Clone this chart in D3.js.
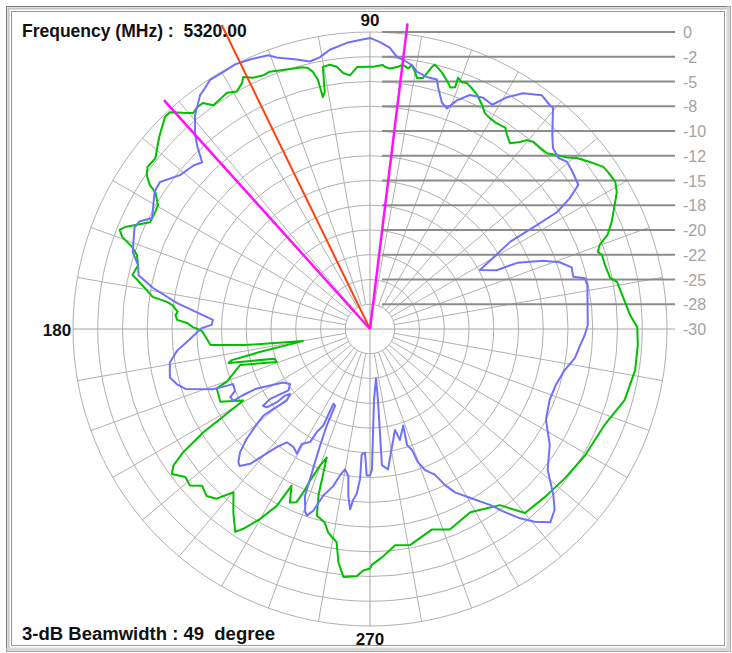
<!DOCTYPE html>
<html><head><meta charset="utf-8">
<script src="https://cdn.jsdelivr.net/npm/d3@7/dist/d3.min.js"></script>
<style>html,body{margin:0;padding:0;background:#fff;}svg{display:block;}</style>
</head><body>
<svg id="c" width="732" height="653"></svg>
<script>
// ---------------- data ----------------
const frequency = "5320.00";
const beamwidth = 49;
const peakAngle = 116;
const beamEdges = [83, 132];
const ringLevels = [0, -2.5, -5, -7.5, -10, -12.5, -15, -17.5, -20, -22.5, -25, -27.5, -30];
const ringLabels = ["0", "-2", "-5", "-8", "-10", "-12", "-15", "-18", "-20", "-22", "-25", "-28", "-30"];
const axisLabels = [90, 180, 270];

const blueAng = [1,11.4,13.3,14.4,17,19.4,21.5,24.2,24.9,28.2,31.9,31.9,32,33.2,34.7,37.9,40.3,42.3,44.7,46.8,50.4,51.2,53.7,57,59.4,61.4,63.9,66.9,69.2,70.8,72.4,74.3,75,77.3,79.6,81,83,84.3,86,88,90,92,94.6,98.2,100.5,102.7,105.2,109,110.4,114,117,119.8,122.7,124.4,126,129.3,132,133.5,135.2,137.2,141,145,147.5,153,155,156.7,162,164.6,166.9,169.3,172.3,175.2,176.7,178.5,179.7,180.6,183.2,186.4,189.5,193.6,195.9,198,201,201.6,201.9,204.6,206,207.7,207.5,207.6,209.5,211.6,214.5,217,215.6,215,215.7,217.2,218.2,218.1,219.1,220.7,219.6,219.1,220,221.7,223.5,225.3,226.4,228.4,229.9,231.7,233.7,237,239.6,239.3,242.1,242.7,244.2,243.9,245.5,245.9,246.8,247.6,248.2,248.7,250.5,251.3,252.7,254.3,256.8,258.4,259.9,261.6,262.6,263.7,264.4,265.4,266.2,266.2,267.7,268.7,270,270.8,273.2,277,276.4,275,277.3,283.9,285.1,289,287.7,289.1,289.8,291.3,294,295.7,297.5,300.6,304.3,306.4,308.4,310.5,313,315.6,317.8,321.6,327.2,332.7,338.5,343.2,348.1,351.9,355.6,358.4];
const blueDb = [-8.0,-7.6,-7.7,-8.8,-8.7,-9.7,-11.2,-13.7,-15.9,-17.4,-13.3,-10.1,-7.7,-5.9,-4.4,-4.1,-3.9,-4.3,-4.0,-3.1,-1.0,-1.0,-0.7,-1.6,-2.8,-4.2,-4.0,-4.3,-5.3,-6.4,-6.0,-4.6,-3.9,-3.9,-3.6,-3.0,-2.6,-2.4,-1.5,-1.0,-0.6,-0.8,-1.0,-1.5,-2.1,-2.3,-1.8,-1.0,-0.5,-0.2,0,-0.1,-0.1,-0.5,-0.8,-2.1,-3.6,-4.7,-6.1,-5.7,-5.3,-4.1,-4.2,-5.3,-4.3,-4.1,-4.8,-5.7,-6.0,-7.7,-10.3,-13.0,-14.1,-14.0,-13.0,-12.7,-11.8,-10.4,-9.5,-9.2,-9.7,-10.4,-13.0,-14.4,-15.1,-15.0,-14.3,-14.4,-15.4,-16.9,-18.4,-19.7,-20.2,-19.7,-18.4,-17.7,-16.7,-16.9,-18.0,-19.1,-19.6,-18.9,-17.3,-16.1,-15.1,-13.3,-11.9,-11.1,-10.9,-11.8,-13.3,-14.8,-15.8,-15.8,-15.4,-16.5,-17.1,-18.3,-19.2,-21.6,-21.5,-19.3,-17.2,-15.4,-13.7,-11.9,-10.4,-10.1,-10.8,-12.5,-13.7,-14.9,-15.6,-15.0,-13.0,-11.7,-12.7,-13.3,-14.8,-17.3,-17.5,-15.2,-15.2,-15.8,-22.8,-25.0,-22.8,-16.2,-15.7,-19.5,-18.4,-19.7,-17.7,-17.1,-15.7,-14.7,-13.9,-12.5,-11.4,-10.2,-8.5,-7.0,-5.6,-4.4,-3.3,-3.9,-5.0,-7.1,-8.4,-10.0,-10.5,-10.4,-9.9,-9.1,-8.7,-8.3];

const greenAng = [0.4,3.1,7.7,10.8,12,15.2,17.7,18.7,20.1,21.6,23.9,27.4,29,31,33.4,34.8,37.2,39.6,41,42.9,44.8,46.8,48.9,50.3,51.3,53,54.8,56.1,58.3,60.4,62,63.4,65.4,67.1,68.5,69.6,70.7,70.6,71.6,72.4,74.3,76.2,76.7,77.4,78.1,79.4,80.1,81,81.7,82.9,84.1,85.6,86.7,87.2,89.3,90.4,92.8,94.5,96,97.2,98.6,100.2,100.8,101.5,101.8,102.5,103.4,104.5,108.6,111.3,112.8,115,116.7,117.5,119.3,121.2,123.2,125,126.5,128,129.3,130.9,132.7,134,135.4,137.3,139,141.5,143.9,145.4,146.8,147.5,149.7,151.6,154.1,155.9,157.4,158.4,159.6,161,162.4,164.6,167.2,168.1,169.7,171.6,172.4,173.1,174.9,175.9,177.3,178.1,179.4,180.6,183.5,185.7,187.3,190.2,191.8,192.7,193.5,197.3,199.4,195.5,200.2,201.2,205.9,209.4,211,211.8,213.4,214.8,216.2,218.7,221,223,225.6,227.9,230.1,233.3,236.4,237.6,239.9,242.2,243,243.4,245.2,247,247.8,248.4,249.9,251.4,252,252.8,254.1,256.9,258.4,261.1,262.3,263.9,266.9,268.4,270,270.5,273,276.6,280.5,287.1,291.7,298.7,306.4,310.1,316.2,322.6,329.6,337.8,344.4,351.2,356.6];
const greenDb = [-3.0,-3.7,-4.3,-4.6,-5.2,-5.4,-5.4,-5.7,-5.3,-4.2,-3.3,-2.1,-1.5,-1.1,-1.2,-1.3,-2.1,-2.9,-3.6,-4.2,-4.8,-4.9,-4.9,-5.2,-5.8,-6.5,-6.0,-5.5,-5.6,-5.5,-5.3,-4.7,-4.0,-3.6,-3.3,-3.4,-3.1,-4.1,-4.3,-3.9,-3.1,-2.5,-2.8,-3.5,-4.1,-4.2,-3.6,-3.0,-3.4,-3.1,-3.4,-3.6,-3.5,-3.3,-3.5,-3.5,-3.5,-4.3,-4.0,-3.3,-3.0,-3.1,-5.6,-6.1,-4.3,-3.4,-2.9,-2.7,-2.4,-2.1,-2.2,-2.0,-1.5,-2.0,-2.5,-2.1,-2.3,-2.4,-1.6,-1.6,-1.8,-1.1,-0.2,-0.2,-0.6,-1.1,-1.6,-2.3,-2.2,-2.6,-3.4,-4.3,-5.2,-5.3,-5.3,-4.2,-3.2,-2.8,-3.3,-4.6,-5.3,-5.7,-5.4,-6.0,-6.9,-7.8,-9.3,-9.9,-10.5,-10.3,-10.5,-11.5,-12.1,-13.0,-13.5,-13.8,-17.3,-23.1,-18.6,-15.7,-15.3,-19.9,-20.0,-16.4,-14.6,-13.4,-13.2,-15.3,-12.3,-10.2,-7.4,-5.8,-5.2,-6.1,-5.9,-6.8,-6.4,-6.9,-8.5,-6.9,-5.4,-6.1,-7.8,-9.8,-11.5,-12.3,-10.7,-11.0,-12.2,-13.5,-15.3,-16.3,-14.8,-12.4,-10.4,-9.9,-9.0,-8.2,-6.2,-4.8,-5.0,-5.6,-5.8,-6.2,-6.9,-8.0,-7.8,-8.8,-8.2,-8.9,-7.9,-5.7,-5.5,-5.2,-4.8,-4.4,-3.3,-2.9,-2.9];

// ---------------- layout ----------------
const W = 732, H = 653;
const cx = 370, cy = 329, R = 297;
const svg = d3.select("#c");
const r = d3.scaleLinear().domain([-30, 0]).range([0, R]);
const rad = a => (90 - a) * Math.PI / 180; // math angle -> d3 radial angle
const px = (a, rr) => cx + rr * Math.cos(a * Math.PI / 180);
const py = (a, rr) => cy - rr * Math.sin(a * Math.PI / 180);

// frame
svg.append("rect").attr("x", 0).attr("y", 0).attr("width", W).attr("height", H).attr("fill", "#fff");
svg.append("rect").attr("x", 6.5).attr("y", 6.5).attr("width", W - 8).attr("height", H - 8)
  .attr("fill", "none").attr("stroke", "#7a7a7a");
svg.append("rect").attr("x", 8.5).attr("y", 8.5).attr("width", W - 12).attr("height", H - 12)
  .attr("fill", "none").attr("stroke", "#c4c4c4").attr("stroke-width", 2);
svg.append("rect").attr("x", 11.5).attr("y", 11.5).attr("width", W - 19).attr("height", H - 19)
  .attr("fill", "none").attr("stroke", "#9a9a9a");
svg.append("rect").attr("x", W - 5.5).attr("y", 6.5).attr("width", 4).attr("height", H - 8)
  .attr("fill", "#d8d8d8").attr("stroke", "none");
svg.append("rect").attr("x", 6.5).attr("y", H - 5.5).attr("width", W - 8).attr("height", 4)
  .attr("fill", "#d8d8d8").attr("stroke", "none");

const g = svg.append("g");
const gridColor = "#b0b0b0";

// rings
ringLevels.filter(l => l > -30).forEach(l => {
  g.append("circle").attr("cx", cx).attr("cy", cy).attr("r", r(l))
    .attr("fill", "none").attr("stroke", gridColor).attr("stroke-width", 1);
});
// spokes every 10 deg
d3.range(0, 360, 10).forEach(a => {
  if (a % 90 === 0) return;
  g.append("line")
    .attr("x1", px(a, r(-27.5))).attr("y1", py(a, r(-27.5)))
    .attr("x2", px(a, r(0))).attr("y2", py(a, r(0)))
    .attr("stroke", gridColor).attr("stroke-width", 1);
});
// axes
g.append("line").attr("x1", cx - R).attr("y1", cy).attr("x2", 675).attr("y2", cy)
  .attr("stroke", "#a4a4a4");
g.append("line").attr("x1", cx).attr("y1", cy - R).attr("x2", cx).attr("y2", cy + R)
  .attr("stroke", "#a4a4a4");

// ring label lines + labels
ringLevels.forEach((l, i) => {
  const y = cy - r(l);
  if (l > -30) {
    g.append("line").attr("x1", cx + 12).attr("y1", y).attr("x2", 675).attr("y2", y)
      .attr("stroke", "#8c8c8c").attr("stroke-width", 1.8);
  }
  g.append("text").attr("x", 683).attr("y", y + 6).text(ringLabels[i])
    .attr("font-family", "Liberation Sans, Arial, sans-serif").attr("font-size", 16)
    .attr("fill", "#a3a3a3");
});

// traces
const line = d3.lineRadial().angle(d => rad(d[0])).radius(d => r(d[1])).curve(d3.curveLinearClosed);
const blue = blueAng.map((a, i) => [a, blueDb[i]]);
const green = greenAng.map((a, i) => [a, greenDb[i]]);
const tg = svg.append("g").attr("transform", `translate(${cx},${cy})`);
tg.append("path").attr("d", line(green)).attr("fill", "none").attr("stroke", "#00c000")
  .attr("stroke-width", 2).attr("stroke-linejoin", "round");
tg.append("path").attr("d", line(blue)).attr("fill", "none").attr("stroke", "#7070ff")
  .attr("stroke-width", 2).attr("stroke-linejoin", "round");

// beam lines
const redLen = (cy - 25) / Math.sin(peakAngle * Math.PI / 180);
svg.append("line").attr("x1", cx).attr("y1", cy)
  .attr("x2", px(peakAngle, redLen)).attr("y2", py(peakAngle, redLen))
  .attr("stroke", "#ff4010").attr("stroke-width", 2);
beamEdges.forEach(a => {
  svg.append("line").attr("x1", cx).attr("y1", cy)
    .attr("x2", px(a, r(0) + 11)).attr("y2", py(a, r(0) + 11))
    .attr("stroke", "#ff10ff").attr("stroke-width", 2.5);
});

// texts
const font = "Liberation Sans, Arial, sans-serif";
svg.append("text").attr("x", 22).attr("y", 37).text(`Frequency (MHz) :  ${frequency}`)
  .attr("font-family", font).attr("font-size", 17.5).attr("font-weight", "bold").attr("fill", "#111")
  .style("white-space", "pre");
svg.append("text").attr("x", 22).attr("y", 640).text(`3-dB Beamwidth : ${beamwidth}  degree`)
  .attr("font-family", font).attr("font-size", 17.5).attr("font-weight", "bold").attr("fill", "#111")
  .style("white-space", "pre").attr("textLength", 253).attr("lengthAdjust", "spacingAndGlyphs");
svg.append("text").attr("x", cx).attr("y", 26).attr("text-anchor", "middle").text(axisLabels[0])
  .attr("font-family", font).attr("font-size", 17).attr("font-weight", "bold").attr("fill", "#111");
svg.append("text").attr("x", 57).attr("y", 336).attr("text-anchor", "middle").text(axisLabels[1])
  .attr("font-family", font).attr("font-size", 17).attr("font-weight", "bold").attr("fill", "#111");
svg.append("text").attr("x", cx).attr("y", 645).attr("text-anchor", "middle").text(axisLabels[2])
  .attr("font-family", font).attr("font-size", 17).attr("font-weight", "bold").attr("fill", "#111");
</script>
</body></html>
